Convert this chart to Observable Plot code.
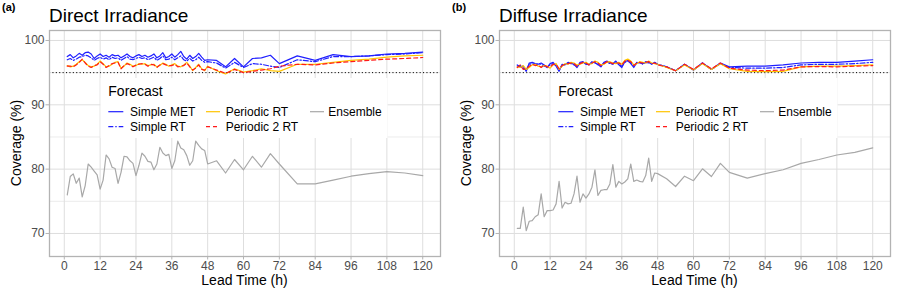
<!DOCTYPE html>
<html><head><meta charset="utf-8">
<script src="https://cdn.jsdelivr.net/npm/d3@7"></script>
<script src="https://cdn.jsdelivr.net/npm/@observablehq/plot@0.6"></script>
<style>
html,body{margin:0;padding:0;background:#fff;}
#wrap{position:relative;width:899px;height:295px;overflow:hidden;background:#fff;}
.panel{position:absolute;top:0;}
</style></head><body><div id="wrap"></div>
<script>
// ---- categories / ticks ----
const leadTimes = [1,2,3,4,5,6,7,8,9,10,11,12,13,14,15,16,17,18,19,20,21,22,23,24,
  25,26,27,28,29,30,31,32,33,34,35,36,37,38,39,40,41,42,43,44,45,46,47,48,
  51,54,57,60,63,66,69,72,78,84,90,96,102,108,114,120];
const xTicks = [0,12,24,36,48,60,72,84,96,108,120];
const yTicks = [70,80,90,100];
const yMinor = [75,85,95];
const seriesNames = ["Simple MET","Simple RT","Periodic RT","Periodic 2 RT","Ensemble"];
const panelTitles = ["Direct Irradiance","Diffuse Irradiance"];
const panelTags = ["(a)","(b)"];

// ---- Direct irradiance coverage (%) ----
const directMET = [97.5,97.8,97.3,97.6,98.0,97.7,98.1,98.2,97.9,97.2,97.6,97.9,
  97.5,97.7,97.4,97.8,97.6,97.7,97.3,97.6,97.9,97.5,97.3,97.6,
  97.8,97.5,97.7,97.4,97.6,97.9,97.3,97.6,98.1,97.3,97.5,97.9,
  97.4,97.8,98.3,97.5,97.1,97.7,97.2,97.5,98.0,97.4,96.9,97.0,
  96.9,95.9,97.2,95.9,97.2,97.3,97.7,96.4,
  97.6,96.9,97.8,97.5,97.6,97.9,98.0,98.2];
const directRT = [97.0,97.2,96.9,97.1,97.4,97.5,97.7,97.6,97.3,96.9,97.2,97.4,
  97.1,97.3,97.0,97.4,97.2,97.3,96.9,97.2,97.5,97.1,97.0,97.2,
  97.4,97.2,97.3,97.0,97.2,97.4,96.9,97.2,97.6,97.0,97.1,97.4,
  97.0,97.3,97.6,97.0,96.8,97.2,96.8,97.0,97.4,96.9,96.6,96.7,
  96.5,95.7,96.6,95.8,96.4,96.3,96.0,95.8,
  97.0,96.7,97.5,97.5,97.6,97.8,97.9,98.1];
const directPRT = [96.1,95.9,96.0,96.3,96.7,97.0,96.6,96.1,95.9,96.0,96.3,96.8,
  96.4,95.9,96.0,96.3,96.6,96.7,95.7,96.0,96.5,96.3,96.0,96.1,
  96.4,96.3,96.4,96.1,96.2,96.3,95.9,96.1,96.5,96.3,96.0,96.2,
  96.4,96.0,95.9,96.2,96.6,96.0,95.3,95.8,96.3,95.6,95.3,96.0,
  95.3,94.8,95.6,95.1,95.3,95.6,95.3,95.2,
  96.3,96.3,96.6,96.9,97.1,97.4,97.6,97.7];
const directP2RT = [96.0,96.0,95.9,96.2,96.6,97.1,96.5,96.0,95.8,96.1,96.2,96.7,
  96.3,95.8,96.1,96.4,96.5,96.6,95.6,96.1,96.4,96.2,95.9,96.2,
  96.3,96.4,96.3,96.0,96.3,96.2,95.8,96.2,96.4,96.2,96.1,96.1,
  96.3,95.9,96.0,96.1,96.5,95.9,95.4,95.7,96.2,95.5,95.4,95.9,
  95.4,94.9,95.5,95.0,95.2,95.4,95.6,96.0,
  96.3,96.2,96.5,96.7,96.9,97.1,97.2,97.35];
const directEns = [76.0,78.85,79.27,77.8,78.6,75.7,77.45,80.8,80.3,79.7,79.1,76.9,
  78.3,82.2,81.6,80.3,80.1,77.8,79.5,82.0,81.9,81.3,80.9,79.0,
  80.6,82.5,82.0,81.2,81.1,79.9,80.8,83.4,82.5,82.1,82.3,80.1,
  81.3,84.35,83.3,83.0,82.1,80.6,81.3,84.35,83.7,83.15,82.9,80.8,
  81.3,79.4,81.5,79.9,82.0,80.3,82.4,80.8,
  77.7,77.7,78.3,78.9,79.3,79.6,79.4,79.0];

// ---- Diffuse irradiance coverage (%) ----
const diffuseMET = [96.2,95.9,96.0,95.2,96.5,96.6,96.4,96.3,96.5,96.2,95.8,96.4,
  96.6,96.0,95.2,96.3,96.2,96.6,96.5,96.3,95.8,96.6,96.7,96.4,
  96.2,96.7,96.5,96.3,95.9,96.6,96.8,96.5,96.4,96.8,96.2,95.8,
  96.7,96.9,96.4,95.8,96.6,96.5,96.4,96.7,96.6,96.3,96.6,96.3,
  95.9,95.3,96.3,95.4,96.5,95.5,96.5,95.9,
  96.0,96.0,96.2,96.5,96.6,96.6,96.8,97.0];
const diffuseRT = [96.0,96.1,95.7,95.4,96.3,96.4,96.2,96.4,96.3,96.0,95.9,96.2,
  96.4,96.1,95.4,96.1,96.3,96.5,96.4,96.2,95.9,96.4,96.6,96.3,
  96.3,96.5,96.6,96.2,96.0,96.5,96.7,96.4,96.3,96.7,96.3,96.0,
  96.6,96.8,96.5,96.0,96.5,96.6,96.3,96.6,96.5,96.4,96.5,96.3,
  95.9,95.3,96.3,95.4,96.5,95.5,96.4,95.8,
  95.7,95.7,95.8,96.2,96.3,96.3,96.4,96.6];
const diffusePRT = [95.9,95.8,96.1,95.5,95.8,96.2,96.3,96.0,95.9,96.1,96.0,95.7,
  96.2,96.4,95.5,96.0,96.4,96.3,96.6,96.5,96.2,96.3,96.5,96.6,
  96.3,96.4,96.8,96.6,96.2,96.3,96.6,96.7,96.5,96.4,96.6,96.3,
  96.9,97.1,96.8,96.2,96.4,96.7,96.6,96.5,96.8,96.5,96.4,96.3,
  95.8,95.3,96.2,95.4,96.4,95.5,96.4,95.6,
  95.2,95.15,95.2,95.9,96.0,96.0,96.1,96.2];
const diffuseP2RT = [95.8,96.2,95.5,95.6,96.0,96.3,96.1,96.2,95.8,96.2,95.9,95.9,
  96.3,96.3,95.6,96.1,96.3,96.4,96.5,96.4,96.0,96.4,96.6,96.5,
  96.2,96.5,96.7,96.5,96.1,96.4,96.7,96.6,96.4,96.5,96.5,96.2,
  96.8,96.9,96.7,96.1,96.5,96.6,96.5,96.6,96.7,96.4,96.5,96.2,
  95.9,95.3,96.3,95.5,96.5,95.6,96.5,95.7,
  95.4,95.3,95.4,95.9,95.95,95.9,96.0,96.1];
const diffuseEns = [70.8,70.8,74.1,70.45,71.9,72.0,72.6,72.9,76.15,72.6,73.55,73.55,
  73.65,74.6,78.1,73.95,74.85,74.6,74.7,76.15,78.9,74.85,76.15,75.5,
  76.15,77.2,79.9,75.9,76.7,76.8,76.8,77.7,80.7,77.2,78.1,77.7,
  78.0,78.5,80.8,78.1,78.3,78.1,78.0,79.0,81.7,78.1,79.4,79.3,
  78.5,77.3,78.9,78.2,80.05,78.85,80.9,79.5,
  78.6,79.3,79.9,80.9,81.5,82.2,82.6,83.3];

// ---- styles per series ----
const seriesStyle = {
  "Simple MET":    {stroke:"#1f1fff", dash:null},
  "Simple RT":     {stroke:"#1f1fff", dash:"5,2,1.4,2"},
  "Periodic RT":   {stroke:"#ffc400", dash:null},
  "Periodic 2 RT": {stroke:"#ff1a1a", dash:"4,3"},
  "Ensemble":      {stroke:"#a8a8a8", dash:null}
};
const panels = [
  [directMET, directRT, directPRT, directP2RT, directEns],
  [diffuseMET, diffuseRT, diffusePRT, diffuseP2RT, diffuseEns]
];

const FONT = "'Liberation Sans', Arial, Helvetica, sans-serif";
const wrap = document.getElementById("wrap");

panels.forEach((vals, p) => {
  const lineMarks = seriesNames.map((name, i) => {
    const rows = leadTimes.map((h, j) => ({h, v: vals[i][j]}));
    const st = seriesStyle[name];
    return Plot.line(rows, {x: "h", y: "v", stroke: st.stroke, strokeWidth: 1.2,
      strokeDasharray: st.dash == null ? undefined : st.dash});
  });
  const chart = Plot.plot({
    width: 449, height: 295,
    marginLeft: 49, marginRight: 9, marginTop: 30, marginBottom: 39,
    x: {domain: [-4.95, 125.95]},
    y: {domain: [66.42, 101.55]},
    style: {fontFamily: FONT, background: "white", overflow: "visible"},
    marks: [
      Plot.ruleY(yMinor, {stroke: "#dedede", strokeWidth: 0.6}),
      Plot.ruleY(yTicks, {stroke: "#dedede", strokeWidth: 1}),
      Plot.ruleX(xTicks, {stroke: "#dedede", strokeWidth: 1}),
      Plot.ruleY([95], {stroke: "black", strokeWidth: 1, strokeDasharray: "1.1,2.3"}),
      ...lineMarks,
      Plot.frame({stroke: "#b3b3b3", strokeWidth: 1.3}),
      Plot.axisX(xTicks, {tickSize: 3.5, tickPadding: 1.3, fontSize: 12, stroke: "#b3b3b3", fill: "#4d4d4d", label: null}),
      Plot.axisY(yTicks, {tickSize: 3.5, tickPadding: 1.5, fontSize: 12, stroke: "#b3b3b3", fill: "#4d4d4d", label: null})
    ]
  });
  const div = document.createElement("div");
  div.className = "panel";
  div.style.left = (p * 450) + "px";
  div.appendChild(chart);
  wrap.appendChild(div);

  const svg = d3.select(chart);
  const g = svg.append("g").attr("font-family", FONT).attr("text-anchor", "start").attr("fill", "black");
  // tag and title
  g.append("text").attr("x", 2).attr("y", 10.5).attr("font-size", 11).attr("font-weight", "bold").attr("text-anchor", "start").text(panelTags[p]);
  g.append("text").attr("x", 49).attr("y", 21.5).attr("font-size", 19).attr("text-anchor", "start").text(panelTitles[p]);
  // axis titles
  g.append("text").attr("x", 244.5).attr("y", 285).attr("font-size", 14).attr("text-anchor", "middle").text("Lead Time (h)");
  g.append("text").attr("transform", "translate(20.5,143) rotate(-90)").attr("font-size", 14).attr("text-anchor", "middle").text("Coverage (%)");
  // legend
  const lg = g.append("g");
  lg.append("rect").attr("x", 100.5).attr("y", 78).attr("width", 287).attr("height", 60).attr("fill", "white");
  lg.append("text").attr("x", 108.3).attr("y", 96).attr("font-size", 14).attr("text-anchor", "start").text("Forecast");
  const cols = [[108.3, 123.3, 130], [206, 220, 225.7], [310, 324, 328.3]];
  const rowsY = [111.7, 126.7];
  const layout = [[0,0],[0,1],[1,0],[1,1],[2,0]];
  seriesNames.forEach((name, i) => {
    const [c, r] = layout[i];
    const st = seriesStyle[name];
    const y = rowsY[r];
    const ln = lg.append("line").attr("x1", cols[c][0]).attr("x2", cols[c][1]).attr("y1", y).attr("y2", y)
      .attr("stroke", st.stroke).attr("stroke-width", 1.2);
    if (st.dash) ln.attr("stroke-dasharray", st.dash);
    lg.append("text").attr("x", cols[c][2]).attr("y", y + 4.2).attr("font-size", 12).attr("text-anchor", "start").text(name);
  });
});
</script></body></html>
